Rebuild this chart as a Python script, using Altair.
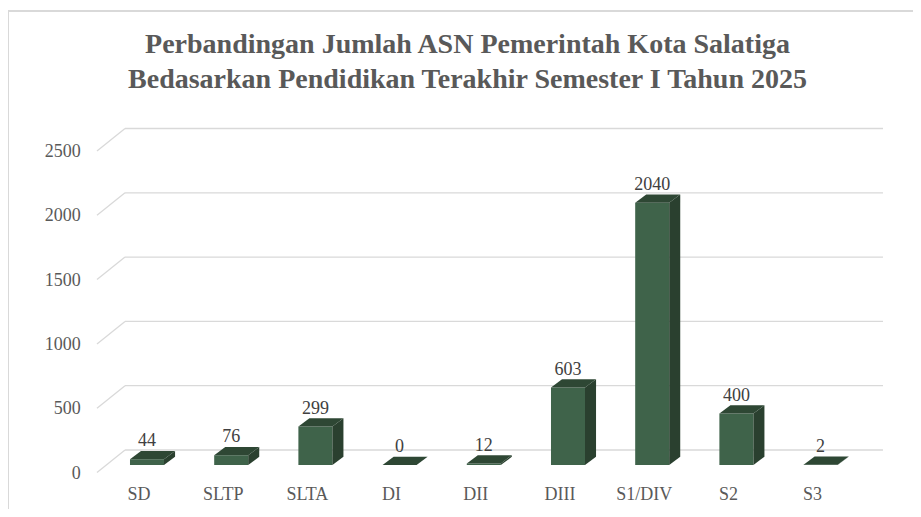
import altair as alt
import pandas as pd

# ---- data ----
categories = ["SD", "SLTP", "SLTA", "DI", "DII", "DIII", "S1/DIV", "S2", "S3"]
values = [44, 76, 299, 0, 12, 603, 2040, 400, 2]
tick_values = [0, 500, 1000, 1500, 2000, 2500]
title_lines = ["Perbandingan Jumlah ASN Pemerintah Kota Salatiga",
               "Bedasarkan Pendidikan Terakhir Semester I Tahun 2025"]

# ---- 3D styling constants (in data units of the scales below) ----
HALF_W = 0.202      # half width of the bar front face (category units)
DEPTH_X = 0.131     # depth offset of bar, x
DEPTH_Y = 64.0      # depth offset of bar, y (value units)
WALL_BACK_X = -0.261
WALL_FRONT_X = -0.594
WALL_BACK_DY = 116.6
WALL_FRONT_DY = -58.3
GRID_END_X = 8.741

FRONT = "#3f634a"
SIDE = "#2a402f"
TOP = "#2e4734"
GRID = "#d9d9d9"
FONT = "Liberation Serif"

# ---- derived tables ----
bars = pd.DataFrame({"cat": categories, "i": range(len(categories)), "v": values})
bars["x0"] = bars["i"] - HALF_W
bars["x1"] = bars["i"] + HALF_W
bars["y0"] = 0.0

side_rows, top_rows = [], []
for c, i, v in zip(categories, range(len(categories)), values):
    xr = i + HALF_W
    xl = i - HALF_W
    side_rows += [
        {"cat": c, "x": xr, "y": v, "y2": 0.0},
        {"cat": c, "x": xr + DEPTH_X, "y": v + DEPTH_Y, "y2": DEPTH_Y},
    ]
    top_rows += [
        {"cat": c, "x": xl, "y": v, "y2": v},
        {"cat": c, "x": xl + DEPTH_X, "y": v, "y2": v + DEPTH_Y},
        {"cat": c, "x": xr, "y": v, "y2": v + DEPTH_Y},
        {"cat": c, "x": xr + DEPTH_X, "y": v + DEPTH_Y, "y2": v + DEPTH_Y},
    ]
side = pd.DataFrame(side_rows)
top = pd.DataFrame(top_rows)

grid = pd.DataFrame({"t": tick_values})
grid["xf"] = WALL_FRONT_X
grid["xb"] = WALL_BACK_X
grid["xe"] = GRID_END_X
grid["yf"] = grid["t"] + WALL_FRONT_DY
grid["yb"] = grid["t"] + WALL_BACK_DY
grid["label"] = grid["t"].astype(str)
grid["xl"] = -0.787

catlab = pd.DataFrame({"cat": categories})
catlab["x"] = [i - 0.095 for i in range(len(categories))]
catlab["y"] = -233.0

vlab = bars.copy()
vlab["ly"] = vlab["v"] + DEPTH_Y + 36
vlab["txt"] = vlab["v"].astype(str)

xs = alt.Scale(domain=[-1.6508, 9.0974], nice=False, zero=False)
ys = alt.Scale(domain=[-342.1, 2776.1], nice=False, zero=False)

X = lambda f: alt.X(f, type="quantitative", scale=xs, axis=None)
Y = lambda f: alt.Y(f, type="quantitative", scale=ys, axis=None)

diag = alt.Chart(grid).mark_rule(color=GRID, strokeWidth=1.3).encode(
    x=X("xf"), x2="xb", y=Y("yf"), y2="yb")
horiz = alt.Chart(grid).mark_rule(color=GRID, strokeWidth=1.3).encode(
    x=X("xb"), x2="xe", y=Y("yb"))
ylabels = alt.Chart(grid).mark_text(
    font=FONT, fontSize=18, color="#595959", align="right", baseline="middle", dy=1
).encode(x=X("xl"), y=Y("yf"), text="label")

front = alt.Chart(bars).mark_rect(color=FRONT).encode(
    x=X("x0"), x2="x1", y=Y("y0"), y2="v")
side_m = alt.Chart(side).mark_area(color=SIDE, orient="vertical").encode(
    x=X("x"), y=Y("y"), y2="y2", detail="cat")
top_m = alt.Chart(top).mark_area(color=TOP, orient="vertical").encode(
    x=X("x"), y=Y("y"), y2="y2", detail="cat")

vtext = alt.Chart(vlab).mark_text(
    font=FONT, fontSize=18, color="#404040", align="center", baseline="alphabetic"
).encode(x=X("i"), y=Y("ly"), text="txt")
ctext = alt.Chart(catlab).mark_text(
    font=FONT, fontSize=18, color="#595959", align="center", baseline="middle"
).encode(x=X("x"), y=Y("y"), text="cat")

border_l = alt.Chart(grid).mark_rule(color=GRID, strokeWidth=2).encode(
    x=alt.value(0), y=alt.value(-97), y2=alt.value(420))
border_t = alt.Chart(grid).mark_rule(color=GRID, strokeWidth=2).encode(
    x=alt.value(0), x2=alt.value(920), y=alt.value(-97))

chart = alt.layer(
    border_l, border_t, diag, horiz, ylabels, front, side_m, top_m, vtext, ctext
).properties(
    width=905, height=401,
    padding={"left": 0, "top": 100, "right": 0, "bottom": 0},
    autosize=alt.AutoSizeParams(type="none"),
    title=alt.Title(
        title_lines, anchor="middle", frame="group", font=FONT, fontSize=28,
        fontWeight="bold", color="#595959", lineHeight=35, offset=20, dx=7, dy=104,
    ),
).configure_view(stroke=None)

chart.save("out.html", embed_options={"renderer": "svg", "actions": False})
